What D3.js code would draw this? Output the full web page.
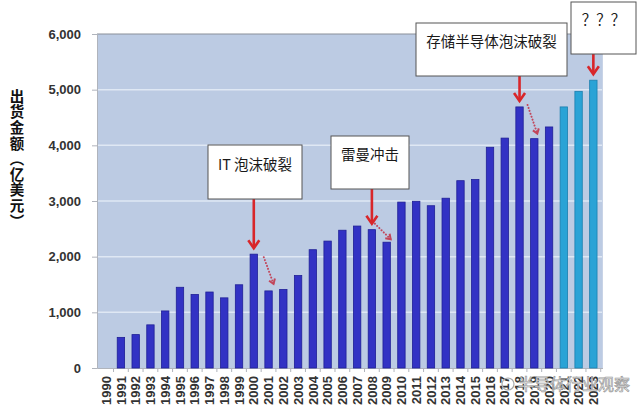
<!DOCTYPE html>
<html><head><meta charset="utf-8">
<script src="https://cdn.jsdelivr.net/npm/d3@7"></script>
<style>
html,body{margin:0;padding:0;background:#fff;}
svg{display:block;}
</style></head>
<body>
<svg id="chart" width="640" height="412"></svg>
<script>
const years = d3.range(1990, 2024).map(String);
const values = [null,550,600,775,1025,1450,1320,1365,1260,1495,2045,1385,1410,1660,2125,2280,2475,2550,2485,2260,2980,2995,2915,3050,3365,3385,3965,4130,4690,4120,4330,4690,4970,5170];
const forecastYears = ["2021","2022","2023"];
const yTicks = [0,1000,2000,3000,4000,5000,6000];
const yTitle = "出货金额（亿美元）";
const annoLabels = ["IT 泡沫破裂","雷曼冲击","存储半导体泡沫破裂","？？？"];
const annoYears = ["2000","2008","2018","2023"];
const dropNext = ["2001","2009","2019",null];
const watermark = "半导体行业观察";

const svg = d3.select("#chart");
const L = 97, R = 602.5, T = 34, B = 368;
const data = years.map((y,i)=>({year:y, value:values[i]}));

const x = d3.scaleBand().domain(years).range([L,R]).paddingInner(0.5).paddingOuter(0.37);
const y = d3.scaleLinear().domain([0,6000]).range([B,T]);

svg.append("rect").attr("x",L).attr("y",T).attr("width",R-L).attr("height",B-T).attr("fill","#bccbe3");

svg.append("g").selectAll("line").data(yTicks.filter(d=>d>0&&d<6000)).join("line")
  .attr("x1",L).attr("x2",R).attr("y1",d=>y(d)).attr("y2",d=>y(d))
  .attr("stroke","#dfe8f4").attr("stroke-width",1.5);
svg.append("line").attr("x1",L).attr("x2",R).attr("y1",y(6000)).attr("y2",y(6000)).attr("stroke","#8a8f99").attr("stroke-width",1.2);
svg.append("line").attr("x1",R).attr("x2",R).attr("y1",T).attr("y2",B).attr("stroke","#c8d3e6").attr("stroke-width",1);

const yAxis = d3.axisLeft(y).tickValues(yTicks).tickFormat(d3.format(",")).tickSize(5).tickPadding(11);
const gy = svg.append("g").attr("transform",`translate(${L},0)`).call(yAxis);
gy.select(".domain").attr("stroke","#b0b4bc");
gy.selectAll(".tick line").attr("stroke","#b0b4bc");
gy.selectAll("text").attr("font-family","'Liberation Sans',Arial,sans-serif").attr("font-weight","bold").attr("font-size",13).attr("fill","#333");

const xAxis = d3.axisBottom(x).tickSize(0).tickPadding(0);
const gx = svg.append("g").attr("transform",`translate(0,${B})`).call(xAxis);
gx.select(".domain").attr("stroke","#b0b4bc");
gx.selectAll("text").attr("transform","rotate(-90)").attr("text-anchor","end")
  .attr("x",-8).attr("y",0).attr("dy","0.36em")
  .attr("font-family","'Liberation Sans',Arial,sans-serif").attr("font-weight","bold").attr("font-size",13).attr("fill","#333");
const step = x.step();
svg.append("g").selectAll("line").data(years).join("line")
  .attr("x1",d=>x(d)+x.bandwidth()/2+step/2).attr("x2",d=>x(d)+x.bandwidth()/2+step/2)
  .attr("y1",B).attr("y2",B+4).attr("stroke","#b0b4bc");

svg.append("g").selectAll("rect").data(data.filter(d=>d.value!=null)).join("rect")
  .attr("x",d=>x(d.year)).attr("width",x.bandwidth())
  .attr("y",d=>y(d.value)).attr("height",d=>B-y(d.value))
  .attr("fill",d=>forecastYears.includes(d.year)?"#2aa3d6":"#3232c4")
  .attr("stroke",d=>forecastYears.includes(d.year)?"#1b7fae":"#1f1f96").attr("stroke-width",0.8);

const boxes = [
  {x:208,y:145,w:94,h:54,ty:165, d:[10,3,5,-7]},
  {x:331,y:136,w:78,h:53,ty:155, d:[3,-6,4,-3]},
  {x:416,y:23,w:151,h:53,ty:42, d:[8,-2,3,-5]},
  {x:571,y:2,w:65,h:52,ty:20}
];
const val = yr => values[years.indexOf(yr)];
const cx = yr => x(yr)+x.bandwidth()/2;
const red = "#d8262a";
annoLabels.forEach((lab,i)=>{
  const b = boxes[i];
  const ax = cx(annoYears[i]);
  const tipY = y(val(annoYears[i]))-6;
  svg.append("line").attr("x1",ax).attr("x2",ax).attr("y1",b.y+b.h).attr("y2",tipY-1)
    .attr("stroke",red).attr("stroke-width",2.6);
  svg.append("path").attr("d",`M${ax-5.5},${tipY-8}L${ax},${tipY}L${ax+5.5},${tipY-8}`)
    .attr("fill","none").attr("stroke",red).attr("stroke-width",2.6);
  svg.append("rect").attr("x",b.x).attr("y",b.y).attr("width",b.w).attr("height",b.h)
    .attr("fill","#fff").attr("stroke","#555").attr("stroke-width",1);
  svg.append("text").attr("x",b.x+b.w/2).attr("y",b.ty).attr("dy","0.36em").attr("text-anchor","middle")
    .attr("font-family","'Noto Sans CJK SC','Noto Sans',sans-serif").attr("font-size",14.5).attr("fill","#1a1a1a")
    .text(lab);
  if(dropNext[i]){
    const x0 = ax+b.d[0], y0 = y(val(annoYears[i]))+b.d[1];
    const x1 = cx(dropNext[i])+b.d[2], y1 = y(val(dropNext[i]))+b.d[3];
    svg.append("line").attr("x1",x0).attr("y1",y0).attr("x2",x1).attr("y2",y1)
      .attr("stroke","#c2455a").attr("stroke-width",2).attr("stroke-dasharray","0.1 3").attr("stroke-linecap","round");
    const ang = Math.atan2(y1-y0,x1-x0);
    const hl = 5.5;
    const p1 = [x1-hl*Math.cos(ang-0.6), y1-hl*Math.sin(ang-0.6)];
    const p2 = [x1-hl*Math.cos(ang+0.6), y1-hl*Math.sin(ang+0.6)];
    svg.append("path").attr("d",`M${p1}L${x1},${y1}L${p2}`).attr("fill","none")
      .attr("stroke","#c2455a").attr("stroke-width",2);
  }
});

// y title: vertical writing mode
svg.append("text").attr("x",17).attr("y",89)
  .style("writing-mode","vertical-rl")
  .attr("font-family","'Noto Sans CJK SC',sans-serif").attr("font-weight","bold").attr("font-size",14.5)
  .attr("letter-spacing",1.1).attr("fill","#111").text(yTitle);

svg.append("circle").attr("cx",508).attr("cy",384).attr("r",6).attr("fill","none").attr("stroke","#aaa").attr("stroke-width",1.2);
svg.append("text").attr("x",518).attr("y",390).attr("font-family","'Noto Sans CJK SC',sans-serif")
  .attr("font-size",16).attr("fill","rgba(255,255,255,0.85)").attr("stroke","#9a9a9a").attr("stroke-width",0.7)
  .text(watermark);
</script>
</body></html>
